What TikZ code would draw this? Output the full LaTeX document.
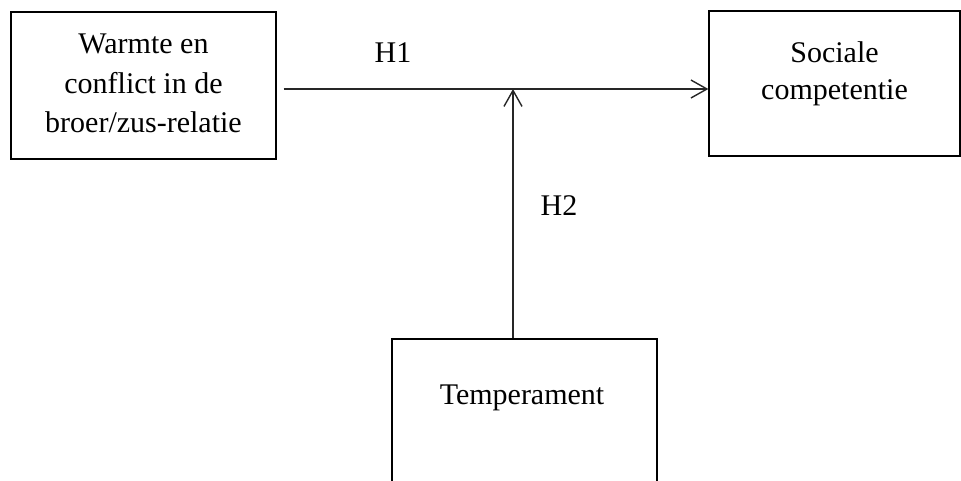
\documentclass[tikz,border=0pt]{standalone}
\usepackage{fontspec}
\setmainfont{Liberation Serif}
\usetikzlibrary{arrows.meta}
\begin{document}
\begin{tikzpicture}[x=1pt,y=1pt,
  box/.style={draw=black,line width=1.3pt,inner sep=0pt},
  txt/.style={align=center,font=\fontsize{30}{39.5}\selectfont,inner sep=0pt},
  arr/.style={draw=black!85,line width=1.3pt,-{Straight Barb[length=16pt,width=18pt,line width=1.4pt]}}]
\useasboundingbox (0,0) rectangle (961,-480);
\node[box,minimum width=265pt,minimum height=147pt] (lb) at (143.5,-85.5) {};
\node[txt] (lbt) at ([yshift=2]lb.center) {Warmte en\\conflict in de\\broer/zus-relatie};
\node[box,minimum width=251pt,minimum height=145pt] (rb) at (834.5,-83.5) {};
\node[txt,font=\fontsize{30}{37}\selectfont] (rbt) at ([yshift=10]rb.center) {Sociale\\competentie};
\node[box,minimum width=265pt,minimum height=200pt] (tb) at (524.5,-439) {};
\node[txt] (tbt) at (522,-398) {Temperament};
\coordinate (hs) at ([xshift=7,yshift=-3.5]lb.east);
\coordinate (he) at ([yshift=-5.5]rb.west);
\draw[arr] (hs) -- (he);
\coordinate (vb) at ([xshift=-11.5]tb.north);
\draw[arr] (vb) -- (vb |- hs);
\node[txt] (h1) at (393,-53) {H1};
\node[txt] (h2) at (559,-206) {H2};
\end{tikzpicture}
\end{document}
